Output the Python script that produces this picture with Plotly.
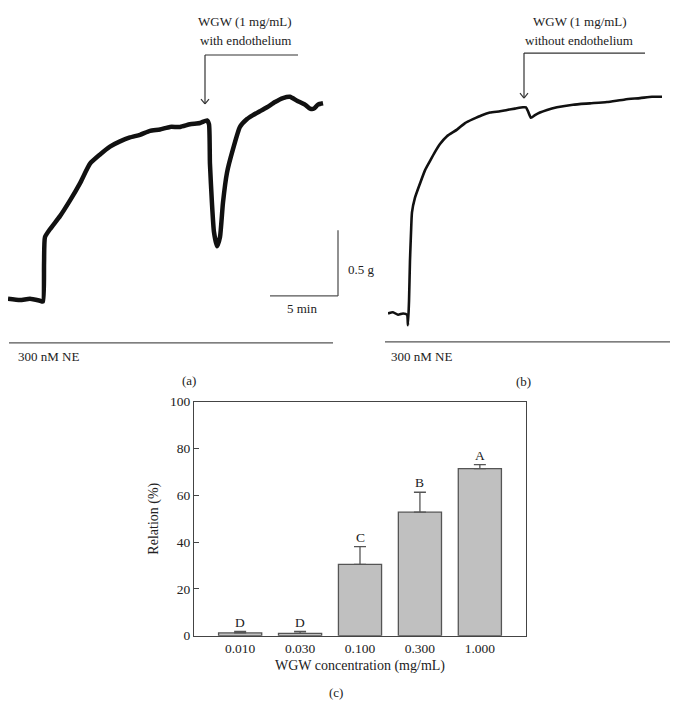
import plotly.graph_objects as go

W, H = 677, 725
FONT = "Liberation Serif"

# ---------------- data ----------------
# Panel (a): tension trace with endothelium (time in min, tension in g above baseline)
a_time = [0, 0.9, 1.64, 2.39, 2.61, 2.69, 2.76, 3.13, 3.88, 4.63, 5.37, 6.12, 6.87, 7.61,
          8.36, 9.10, 9.85, 10.60, 11.34, 12.09, 12.84, 13.58, 14.33, 14.85, 15.0, 15.07,
          15.22, 15.37, 15.6, 15.82, 16.04, 16.34, 16.79, 17.31, 17.84, 18.28, 18.81, 19.33,
          19.93, 20.52, 21.04, 21.57, 22.16, 22.54, 22.84, 23.13, 23.51]
a_tension = [0, -0.01, 0, -0.015, -0.02, 0.27, 0.47, 0.53, 0.63, 0.75, 0.88, 1.03, 1.10, 1.16,
             1.20, 1.23, 1.25, 1.28, 1.29, 1.31, 1.31, 1.33, 1.34, 1.36, 1.33, 1.03,
             0.73, 0.51, 0.40, 0.47, 0.73, 0.96, 1.14, 1.31, 1.37, 1.40, 1.43, 1.46,
             1.50, 1.53, 1.54, 1.51, 1.48, 1.45, 1.45, 1.48, 1.49]

# Panel (b): tension trace without endothelium
b_time = [0, 0.37, 0.75, 1.12, 1.42, 1.49, 1.57, 1.64, 1.72, 1.79, 2.01, 2.39, 2.76, 3.13,
          3.51, 3.88, 4.40, 5.15, 5.75, 6.34, 7.01, 7.61, 8.36, 8.88, 9.48, 10.07, 10.30,
          10.45, 10.67, 10.97, 11.34, 11.87, 12.61, 13.81, 15.07, 16.34, 17.69, 18.81, 19.70, 20.45]
b_tension = [0, 0.01, -0.01, 0, -0.01, -0.09, 0.10, 0.40, 0.62, 0.77, 0.88, 0.99, 1.09, 1.16,
             1.23, 1.29, 1.35, 1.40, 1.45, 1.48, 1.51, 1.53, 1.54, 1.55, 1.56, 1.57, 1.57,
             1.54, 1.49, 1.51, 1.53, 1.55, 1.57, 1.59, 1.60, 1.61, 1.63, 1.64, 1.65, 1.65]

# Panel (c): relaxation bars
concentrations = ["0.010", "0.030", "0.100", "0.300", "1.000"]
relaxation = [1.2, 1.0, 30.5, 52.8, 71.4]
relaxation_err = [0.6, 0.8, 7.6, 8.5, 1.7]
group_letters = ["D", "D", "C", "B", "A"]

# ---------------- helpers (pixel -> paper) ----------------
def px(x):
    return x / W

def py(y):
    return 1 - y / H

fig = go.Figure()

fig.add_trace(go.Scatter(x=a_time, y=a_tension, mode="lines",
                         line=dict(color="#111111", width=4.5, shape="spline", smoothing=0.5),
                         xaxis="x2", yaxis="y2", showlegend=False, hoverinfo="skip"))
fig.add_trace(go.Scatter(x=b_time, y=b_tension, mode="lines",
                         line=dict(color="#111111", width=2.6, shape="spline", smoothing=0.5),
                         xaxis="x3", yaxis="y3", showlegend=False, hoverinfo="skip"))

fig.add_trace(go.Bar(x=concentrations, y=relaxation,
                     marker=dict(color="#c0c0c0", line=dict(color="#555555", width=1.3)),
                     error_y=dict(type="data", symmetric=False, array=relaxation_err,
                                  arrayminus=[0] * len(relaxation_err),
                                  color="#555555", thickness=1.3, width=6),
                     showlegend=False, hoverinfo="skip"))

annotations = []
for i, (v, e, l) in enumerate(zip(relaxation, relaxation_err, group_letters)):
    annotations.append(dict(x=i, y=v + e, xref="x", yref="y", text=l, showarrow=False,
                            yanchor="bottom", yshift=0,
                            font=dict(family=FONT, size=13.5, color="#222")))

def txt(x, y, t, xanchor="center", size=13):
    annotations.append(dict(x=px(x), y=py(y), xref="paper", yref="paper", text=t,
                            showarrow=False, xanchor=xanchor, yanchor="middle",
                            font=dict(family=FONT, size=size, color="#222")))

txt(245, 15, "WGW (1 mg/mL)")
txt(245, 34, "with endothelium")
txt(580, 15, "WGW (1 mg/mL)")
txt(579, 34, "without endothelium")
txt(346, 268, "0.5 g", xanchor="left")
txt(302, 308, "5 min")
txt(16, 357, "300 nM NE", xanchor="left")
txt(389, 357, "300 nM NE", xanchor="left")
txt(189, 381, "(a)")
txt(523, 382, "(b)")
txt(336, 700, "(c)")

shapes = []
def seg(x0, y0, x1, y1, w=1.2, col="#333"):
    shapes.append(dict(type="line", xref="paper", yref="paper",
                       x0=px(x0), y0=py(y0), x1=px(x1), y1=py(y1),
                       line=dict(color=col, width=w)))

# brackets with arrows
seg(205, 49, 298, 49)
seg(205, 49, 205, 99)
seg(201, 94, 205, 99); seg(209, 94, 205, 99)
seg(524, 47, 645, 47)
seg(524, 47, 524, 93)
seg(520, 88, 524, 93); seg(528, 88, 524, 93)
# scale bar
seg(338, 228, 338, 295, w=1.3, col="#555")
seg(270, 295, 338, 295, w=1.3, col="#555")
# NE lines
seg(9, 343, 333, 343, w=1.3, col="#555")
seg(385, 342, 670, 342, w=1.3, col="#555")

fig.update_layout(
    width=W, height=H, margin=dict(l=0, r=0, t=0, b=0),
    paper_bgcolor="white", plot_bgcolor="white",
    font=dict(family=FONT, size=13, color="#222"),
    bargap=0.28,
    xaxis=dict(domain=[px(194), px(526)], anchor="y", type="category", range=[-0.77, 4.77],
               showline=True, linecolor="#444", linewidth=1.2, mirror=True,
               ticks="", tickfont=dict(family=FONT, size=13.5, color="#222"),
               title=dict(text="WGW concentration (mg/mL)", standoff=5,
                          font=dict(family=FONT, size=14, color="#222"))),
    yaxis=dict(domain=[py(642), py(403)], anchor="x", range=[0, 100],
               tickvals=[0, 20, 40, 60, 80, 100],
               showline=True, linecolor="#444", linewidth=1.2, mirror=True,
               ticks="inside", ticklen=5, tickcolor="#444", showgrid=False, zeroline=False,
               tickfont=dict(family=FONT, size=13.5, color="#222"),
               title=dict(text="Relation (%)", standoff=8,
                          font=dict(family=FONT, size=14, color="#222"))),
    xaxis2=dict(domain=[px(8), px(343)], anchor="y2", range=[0, 25], visible=False),
    yaxis2=dict(domain=[py(330), py(30)], anchor="x2", range=[-0.239, 2.0], visible=False),
    xaxis3=dict(domain=[px(388), px(677)], anchor="y3", range=[0, 21.57], visible=False),
    yaxis3=dict(domain=[py(330), py(30)], anchor="x3", range=[-0.127, 2.11], visible=False),
    annotations=annotations,
    shapes=shapes,
)

fig.write_html("out.html", config={"displayModeBar": False},
               post_script="document.body.style.margin='0px';")
